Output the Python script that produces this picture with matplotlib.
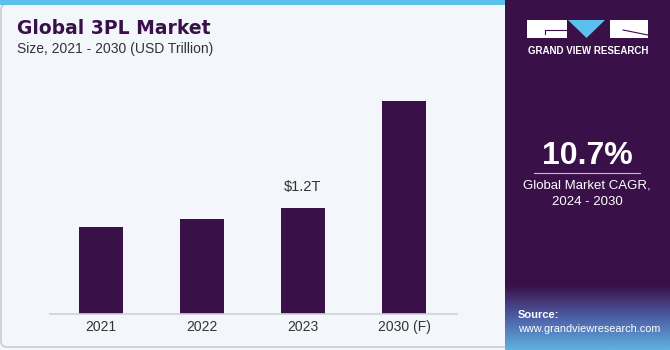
import matplotlib.pyplot as plt
from matplotlib.patches import Rectangle, Polygon, FancyBboxPatch
from matplotlib.colors import LinearSegmentedColormap
import numpy as np

years = ["2021", "2022", "2023", "2030 (F)"]
values = [0.99, 1.08, 1.2, 2.41]
labels = ["", "", "$1.2T", ""]

purple = "#3a1049"
W, H = 670, 350
plt.rcParams["font.family"] = ["Liberation Sans", "DejaVu Sans"]

fig = plt.figure(figsize=(6.7, 3.5), dpi=100)
fig.patch.set_facecolor("#f3f6fa")

# 背景和面板
bg = fig.add_axes([0, 0, 1, 1])
bg.axis("off")
bg.add_patch(FancyBboxPatch((1, 4), 520, 343, boxstyle="round,pad=0,rounding_size=6",
                            fc="#f3f6fa", ec="#c9ccd1", lw=1.2))
bg.add_patch(Rectangle((0, 0), 508, 5, fc="#5bc0eb", ec="none"))
bg.add_patch(Rectangle((505, 0), 165, 350, fc=purple, ec="none"))
# 右下角的渐变
grad = np.linspace(0, 1, 60).reshape(-1, 1)
cmap = LinearSegmentedColormap.from_list("g", [purple, "#4d5fa6", "#5fb0e0"])
bg.imshow(grad, extent=(505, 670, 350, 285), cmap=cmap, aspect="auto", zorder=1)
bg.set_xlim(0, W)
bg.set_ylim(H, 0)

# logo
bg.add_patch(Rectangle((527, 20), 40, 18, fc="white", ec="none", zorder=2))
bg.add_patch(Polygon([(568, 20), (605, 20), (586.5, 38)], fc="#5bc0eb", ec="none", zorder=2))
bg.add_patch(Rectangle((610, 20), 38, 18, fc="white", ec="none", zorder=2))
bg.plot([545, 567], [30, 30], color=purple, lw=0.8, zorder=3)
bg.plot([545, 545], [30, 34], color=purple, lw=0.8, zorder=3)
bg.plot([623, 648], [30, 35], color=purple, lw=0.8, zorder=3)
bg.text(588, 51, "GRAND VIEW RESEARCH", color="white", fontsize=7, fontweight="bold",
        ha="center", va="center", zorder=3)

bg.text(587, 156, "10.7%", color="white", fontsize=23, fontweight="bold",
        ha="center", va="center", zorder=3)
bg.plot([534, 640], [173, 173], color="#c8bcd0", lw=0.8, zorder=3)
bg.text(587, 186, "Global Market CAGR,", color="white", fontsize=9.5, ha="center", va="center", zorder=3)
bg.text(587, 202, "2024 - 2030", color="white", fontsize=9.5, ha="center", va="center", zorder=3)

bg.text(518, 315, "Source:", color="white", fontsize=8, fontweight="bold", ha="left", va="center", zorder=3)
bg.text(518, 329, "www.grandviewresearch.com", color="white", fontsize=7.8,
        ha="left", va="center", zorder=3)

# 标题
bg.text(17, 28, "Global 3PL Market", color=purple, fontsize=13.5, fontweight="heavy",
        family="DejaVu Sans", ha="left", va="center")
bg.text(17, 49, "Size, 2021 - 2030 (USD Trillion)", color="#333333", fontsize=10,
        ha="left", va="center")

# 柱状图
ax = fig.add_axes([50 / W, 36 / H, 407 / W, 254 / H])
ax.patch.set_alpha(0)
x = np.arange(len(years))
ax.bar(x, values, width=0.435, color=purple)
for i, t in enumerate(labels):
    if t:
        ax.text(x[i], values[i] + 0.16, t, ha="center", va="bottom", fontsize=10.5, color="#333333")
ax.set_xlim(-0.505, 3.525)
ax.set_ylim(0, 254 / 88.3)
ax.set_xticks(x)
ax.set_xticklabels(years, fontsize=10, color="#333333")
ax.tick_params(axis="x", length=0, pad=4)
ax.set_yticks([])
for s in ["top", "right", "left"]:
    ax.spines[s].set_visible(False)
ax.spines["bottom"].set_color("#d0d3d8")
ax.spines["bottom"].set_linewidth(1.2)

fig.savefig("out.png", dpi=100, facecolor=fig.get_facecolor())
